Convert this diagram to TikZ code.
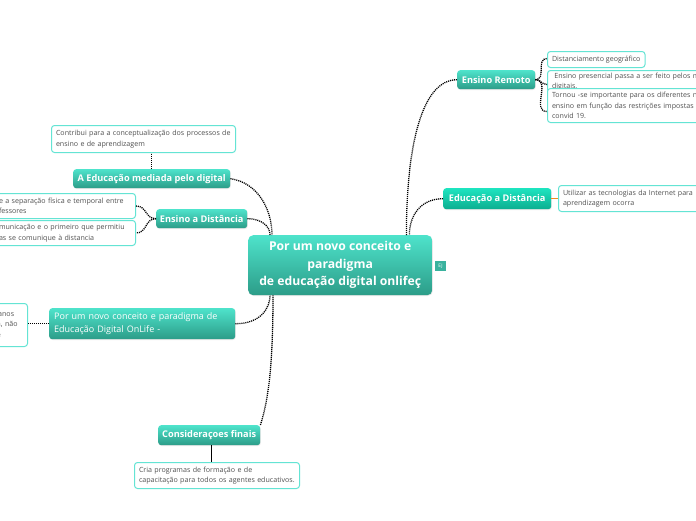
\documentclass[tikz,border=0pt]{standalone}
\usepackage{fontspec}
\setmainfont{Open Sans}
\usetikzlibrary{shadows}
\definecolor{tealtop}{RGB}{78,227,203}
\definecolor{tealbot}{RGB}{44,156,136}
\definecolor{greentop}{RGB}{30,228,192}
\definecolor{greenbot}{RGB}{12,174,144}
\definecolor{kidborder}{RGB}{100,228,212}
\definecolor{kidtext}{RGB}{80,80,80}
\definecolor{ejfill}{RGB}{58,178,158}
\definecolor{orangeconn}{RGB}{240,140,30}
\tikzset{
  mainbox/.style={rounded corners=3pt, top color=tealtop, bottom color=tealbot, text=white,
    font=\fontsize{9.2}{11}\selectfont\bfseries, inner sep=0pt,
    drop shadow={opacity=0.18, shadow xshift=0.6pt, shadow yshift=-0.8pt}},
  greenbox/.style={mainbox, top color=greentop, bottom color=greenbot},
  kidbox/.style={draw=kidborder, line width=1pt, rounded corners=3pt, fill=white, text=kidtext,
    font=\fontsize{7.1}{10.5}\selectfont, align=left, inner xsep=4.5pt, inner ysep=0pt},
  conn/.style={line width=1.3pt, black, dash pattern=on 1.1pt off 0.9pt},
  oconn/.style={conn, orangeconn},
}
\begin{document}
\begin{tikzpicture}[x=1pt,y=-1pt]
\useasboundingbox[fill=white] (0,0) rectangle (696,520);

% central node
\node[mainbox, rounded corners=5pt, anchor=north west, minimum width=184pt, minimum height=60pt,
  align=center, font=\fontsize{12.2}{17.5}\selectfont\bfseries] (c) at (248,235)
  {Por um novo conceito e\\paradigma\\de educação digital onlifeç};
\node[fill=ejfill, text=white, font=\fontsize{4.8}{5}\selectfont, inner sep=0pt,
  minimum width=11pt, minimum height=10pt] (ej) at (440.5,266) {EJ};

% branches
\node[mainbox, anchor=north west, minimum width=78pt, minimum height=19pt] (er) at (457,70) {Ensino Remoto};
\node[greenbox, anchor=north west, minimum width=108pt, minimum height=21pt] (ead) at (443,188) {Educação a Distância};
\node[mainbox, anchor=north west, minimum width=157pt, minimum height=19pt] (ame) at (73,169) {A Educação mediada pelo digital};
\node[mainbox, anchor=north west, minimum width=91pt, minimum height=19pt] (esd) at (156,209) {Ensino a Distância};
\node[mainbox, anchor=north west, minimum width=184pt, minimum height=31pt, align=left,
  text width=176pt, inner xsep=5pt, font=\fontsize{9}{13.5}\selectfont] (pn) at (49,308)
  {Por um novo conceito e paradigma de\\Educação Digital OnLife -};
\node[mainbox, anchor=north west, minimum width=102pt, minimum height=20pt] (cf) at (158,425) {Consideraçoes finais};

% children of Ensino Remoto
\node[kidbox, anchor=north west, minimum height=16pt] (r1) at (547,51) {Distanciamento geográfico};
\node[kidbox, anchor=north west, minimum height=22pt, text width=170pt] (r2) at (547,70)
  {\ Ensino presencial passa a ser feito pelos m\\digitais.};
\node[kidbox, anchor=north west, minimum height=34pt, text width=170pt] (r3) at (547,88)
  {Tornou -se importante para os diferentes n\\ensino em função das restrições impostas p\\convid 19.};

% child of Educação a Distância
\node[kidbox, anchor=north west, minimum height=26pt, text width=170pt] (u1) at (558,185)
  {Utilizar as tecnologias da Internet para\\aprendizagem ocorra};

% child of A Educação mediada
\node[kidbox, anchor=north west, minimum height=27pt, text width=175pt] (ct) at (51,125)
  {Contribui para a conceptualização dos processos de\\ensino e de aprendizagem};

% children of Ensino a Distância
\node[kidbox, anchor=north east, minimum height=25pt, text width=132pt] (d1) at (136,193)
  {e a separação física e temporal entre\\fessores};
\node[kidbox, anchor=north east, minimum height=25pt, text width=132pt] (d2) at (136,220)
  {municação e o primeiro que permitiu\\as se comunique à distancia};

% child of Por um novo
\node[kidbox, anchor=north east, minimum height=43pt, text width=26pt] (p1) at (28,303)
  {\,anos\\a, não\\e};

% child of Considerações
\node[kidbox, anchor=north west, minimum height=26pt, text width=156pt] (cr) at (134,462)
  {Cria programas de formação e de\\capacitação para todos os agentes educativos.};

% connectors from centre
\draw[conn] (ame.east) .. controls +(28,4) and +(0,-25) .. ([xshift=24pt]c.north west);
\draw[conn] (esd.east) .. controls +(14,0) and +(0,-9) .. ([xshift=22pt]c.north west);
\draw[conn] (er.west) .. controls +(-35,0) and +(0,-90) .. ([xshift=-26pt]c.north east);
\draw[conn] (ead.west) .. controls +(-22,0) and +(0,-20) .. ([xshift=-23pt]c.north east);
\draw[conn] (pn.east) .. controls +(26,0) and +(0,12) .. ([xshift=22pt]c.south west);
\draw[conn] (cf.north east) .. controls +(8,-25) and +(0,70) .. ([xshift=25pt]c.south west);

% connectors to children
\draw[conn] (er.east) to[out=0,in=180, looseness=1.2] ([yshift=1pt]r1.west);
\draw[conn] (er.east) to[out=0,in=180] ([yshift=-3pt]r2.west);
\draw[conn] (er.east) to[out=0,in=180, looseness=1.2] ([yshift=-6pt]r3.west);
\draw[oconn] (ead.east) -- (ead.east -| u1.west);
\draw[conn] (ame.north) -- (ame.north |- ct.south);
\draw[conn] (esd.west) to[out=180,in=0, looseness=1.2] (d1.east);
\draw[conn] (esd.west) to[out=180,in=0, looseness=1.2] (d2.east);
\draw[conn] (pn.west) -- (pn.west -| p1.east);
\draw[conn] ([xshift=2pt]cf.south) -- ([xshift=2pt]cf.south |- cr.north);
\end{tikzpicture}
\end{document}
